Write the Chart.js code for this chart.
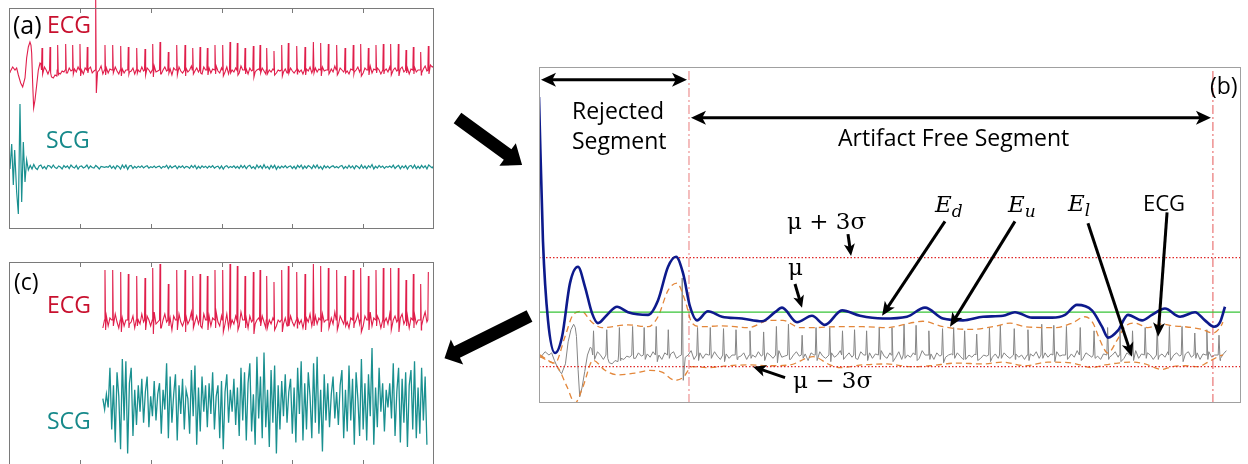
<!DOCTYPE html>
<html>
<head>
<meta charset="utf-8">
<script src="https://cdn.jsdelivr.net/npm/chart.js@4.4.0/dist/chart.umd.min.js"></script>
<style>
  html, body { margin: 0; padding: 0; background: #fff; overflow: hidden; }
  body { width: 1248px; height: 464px; position: relative; font-family: 'Open Sans', sans-serif; }
  canvas { position: absolute; }
  svg { position: absolute; left: 0; top: 0; }
  .lbl { position: absolute; white-space: nowrap; line-height: 1; }
  .ecg { color: #c8102e; font-size: 23px; }
  .scg { color: #16898a; font-size: 23px; }
  .tag, .txt { font-size: 23px; color: #000; }
  .math { font-family: 'DejaVu Serif', serif; font-size: 23px; color: #000; }
  .ev { font-family: 'DejaVu Serif', serif; font-style: italic; font-size: 23px; color: #000; }
  .ev .sb { font-size: 17px; position: relative; top: 5px; }
</style>
</head>
<body>
<canvas id="chartA" width="441" height="237" style="left:1px; top:0px"></canvas>
<canvas id="chartC" width="433" height="211" style="left:5px; top:258px"></canvas>
<canvas id="chartB" width="710" height="344" style="left:535px; top:63px"></canvas>

<svg width="1248" height="464">
  <polygon fill="#000" points="453.7,123.3 461.3,112.7 511.4,149.3 515.8,143.2 522.1,165.1 499.4,165.8 503.8,159.8"/>
  <polygon fill="#000" points="526.6,310.2 454.1,346.2 450.8,339.5 444.5,358.3 463.2,364.5 459.9,357.8 532.4,321.8"/>
</svg>

<div class="lbl tag" style="left:13px; top:12px; font-size:25px">(a)</div>
<div class="lbl ecg" style="left:47px; top:13px">ECG</div>
<div class="lbl scg" style="left:46px; top:128px">SCG</div>

<div class="lbl tag" style="left:14px; top:270px">(c)</div>
<div class="lbl ecg" style="left:47px; top:293px">ECG</div>
<div class="lbl scg" style="left:47px; top:409px">SCG</div>

<div class="lbl tag" style="left:1210px; top:74px">(b)</div>
<div class="lbl txt" style="left:572px; top:99px">Rejected</div>
<div class="lbl txt" style="left:572px; top:129px">Segment</div>
<div class="lbl txt" style="left:838px; top:126px">Artifact Free Segment</div>
<div class="lbl txt" style="left:1143px; top:191px; font-size:22px">ECG</div>
<div class="lbl math" style="left:787px; top:210px">μ + 3σ</div>
<div class="lbl math" style="left:788px; top:256px">μ</div>
<div class="lbl math" style="left:793px; top:369px">μ − 3σ</div>
<div class="lbl ev" style="left:935px; top:193px">E<span class="sb">d</span></div>
<div class="lbl ev" style="left:1008px; top:193px">E<span class="sb">u</span></div>
<div class="lbl ev" style="left:1068px; top:192px">E<span class="sb">l</span></div>

<script>
// Time axis (s) shared by all panels
const tickSeconds = [10, 20, 30, 40, 50];

// ECG: motion artifact at the start, then baseline noise + beats
const ecgArtT = [0, 0.14, 0.52, 0.85, 1.08, 1.32, 1.65, 1.93, 2.26, 2.49, 2.73, 2.96, 3.1, 3.2, 3.34, 3.48, 3.67, 3.91, 4.14, 4.38];
const ecgArtV = [-1, -2, 3, 0, 2, -5, -13, -17, -8, 12, 23, 28, 25, 17, -13, -38, -30, -15, 0, 7];

const ecgNoiseStart = 4.5;
const ecgNoiseStep = 0.25;
const ecgNoise = [
  6, 5, 3, 0, -4, -8, -7, -8, -5, -6, -3, -4, -1, -2, 1, -3, 2, -1, -3, 1,
  -2, 3, -1, 0, -4, 2, -2, 1, 3, -3, -1, 2, -2, 0, 4, -4, -1, 2, -3, 1,
  0, -2, 3, -1, -4, 2, 1, -3, 0, 3, -2, -1, 2, -4, 1, 0, -2, 3, -1, -3,
  2, 0, -3, 1, 4, -2, -1, 2, -4, 0, 3, -1, -2, 1, -5, 2, 0, -2, 3, -1,
  -3, 1, 2, -2, 0, 4, -3, -1, 2, -2, 1, -4, 3, 0, -1, 2, -3, 1, -2, 4,
  -1, -3, 2, 0, -2, 3, -4, 1, 0, -2, 2, -1, -3, 4, 0, -2, 1, -4, 2, -1,
  3, -2, 0, 1, -3, 2, -1, -4, 3, 0, -2, 1, 2, -3, 0, -1, 4, -2, 1, -3,
  0, 2, -1, -3, 3, 1, -2, 0, -4, 2, 1, -1, 3, -3, 0, 2, -2, 1, -5, 3,
  -1, 0, 2, -3, 1, -2, 4, -1, -3, 2, 0, -2, 3, -1, -4, 1, 2, -2, 0, 3,
  -2, 1, -3, 2, 0, -1, 4, -3, 1, -2, 2, 0, -4, 3, -1, 1, -2, 3, -3, 0,
  2, -1, -3, 1, 3, -2, 0, 2, -4, 1, -1, 3, -2, 0, 2, -3, 1, 4, -1, 2,
  5, 3, 4
];

const beatT = [
  4.66, 5.79, 6.87, 8.0, 8.99, 10.02, 11.05, 12.24, 13.55, 14.64,
  15.77, 16.84, 18.03, 19.2, 20.29, 21.32, 22.49, 23.68, 24.85, 25.94,
  26.97, 28.0, 29.08, 30.17, 31.2, 32.23, 33.32, 34.49, 35.44, 36.38,
  37.41, 38.5, 39.43, 40.62, 41.79, 42.97, 44.0, 45.08, 46.26, 47.44,
  48.6, 49.65, 50.73, 51.81, 52.84, 53.88, 54.96, 56.05, 57.08, 58.12,
  59.2
];
const beatR = [
  22, 23, 25, 26, 25, 26, 23, 70, 25, 25,
  24, 23, 22, 21, 26, 28, 18, 25, 25, 22,
  23, 22, 25, 25, 28, 27, 22, 24, 25, 22,
  19, 25, 27, 24, 23, 28, 27, 26, 25, 22,
  25, 26, 22, 25, 26, 26, 26, 20, 23, 18,
  24
];
const beatS = [
  -4, -3, -5, -3, -4, -6, -3, -23, -5, -3,
  -6, -4, -3, -5, -7, -4, -3, -5, -6, -4,
  -3, -5, -4, -6, -3, -5, -4, -7, -3, -4,
  -5, -6, -3, -4, -5, -3, -6, -4, -5, -3,
  -4, -6, -5, -3, -4, -5, -6, -3, -4, -5,
  -4
];

// SCG: artifact burst, then vibration
const scgArtT = [0.14, 0.38, 0.61, 0.8, 1.08, 1.32, 1.55, 1.79, 2.02, 2.26, 2.49, 2.73];
const scgArtV = [-2, 23, -18, 17, -25, -47, 63, -35, 25, -15, 7, -3];

const scgNoiseStart = 3.0;
const scgNoiseStep = 0.25;
const scgNoise = [
  1.5, -2, 2.5, -1, -2.5, 1, 2, -1.5, 0.5, -2, 1.5, 1, -1, 2, -0.5, -1.5, 1, 0, -2, 1.5,
  -0.5, 1, -1.5, 2, 0, -1, 1.5, -2, 0.5, 1, -1, 0, 2, -1.5, 1, -0.5, -1, 1.5, 0, -2,
  0.5, 0.2, -0.3, 0.4, -0.2, 1.6, -1.2, 0.8, -1.8, 1.4, 0.3, -2.1, 2, -0.8, 1.9, -2.3, 0.9, 1.6, -1.5, 0.6,
  -1, 0.8, -0.4, 1.1, -0.9, 0.5, 1.2, -1.1, 0.3, -0.6, 1, -0.8, 0.4, 0.9, -1.4, 0.6, -0.3, 1.8, -1.6, 1.2,
  -0.9, 0.4, 1.3, -1.7, 0.8, -0.5, 1.1, -1.2, 0.6, 0.2, -1.4, 1.5, -0.6, 1.7, -1.9, 0.7, -1.3, 1.2, -0.4, 0.8,
  -1.1, 0.9, -0.5, 1.4, -1.2, 0.3, 0.8, -1.6, 1, -2.1, 0.5, 1.3, -0.9, 0.6, -0.4, 1.1, -1, 0.7, -1.5, 1.6,
  -0.8, 1.4, -1.7, 0.9, 1.8, -1.3, 0.4, -1.9, 2.1, -0.7, 1.2, -1.6, 2.3, -1.1, 0.6, -2, 1.5, -0.9, 1.7, -2.3,
  0.8, -1.2, 1, -0.6, 1.3, -0.9, 0.5, 1.1, -1.4, 0.7, -1.8, 1.6, -0.5, 1.9, -1.7, 0.9, -1.2, 1.4, 0.3, -1.6,
  1.8, -0.9, 2.1, -1.4, 0.6, -2.2, 1.3, -0.8, 0.9, -1.1, 0.4, 1.2, -0.7, 0.5, -1, 0.8, 1.5, -1.6, 0.6, -1.3,
  1.7, -0.8, 1.1, -1.9, 1.4, 0.2, -1.5, 2, -1.2, 0.9, -1.7, 1.3, -0.6, 2.5, -1.9, 0.7, -1.1, 1.6, -0.4, 0.9,
  -1.3, 0.6, -0.2, 0.9, -0.7, 1.8, -1.5, 0.5, 1.6, -1.8, 1.1, -0.9, 1.4, -2, 0.8, 1.5, -1.2, 1.9, -1.6, 0.7,
  -1.4, 1.6, -0.8, 1.2, -1.9, 2.1, 0.5, -0.9, 1.7
];

// Energy envelopes used for artifact detection (panel b)
const edT = [0, 0.34, 0.77, 1.37, 1.97, 2.65, 3.33, 3.93, 4.53, 5.04, 5.81, 6.67, 7.61, 9.32, 10.17, 11.03, 11.71, 12.31, 12.91, 13.5,
  14.44, 15.64, 17.35, 19.06, 20.17, 20.77, 22.05, 23.33, 24.44, 25.9, 27.44, 29.4, 31.45, 32.99, 34.53, 36.24, 37.95, 39.66, 40.68, 42.14,
  43.85, 44.96, 45.98, 47.26, 48.12, 48.63, 49.49, 50.34, 51.54, 52.39, 53.5, 54.79, 56.07, 56.92, 57.69, 58.21, 58.63];
const edV = [3.37, 1.78, 0.91, 0.55, 0.73, 1.32, 1.5, 1.28, 0.99, 0.88, 0.97, 1.06, 1.0, 0.97, 1.13, 1.5, 1.61, 1.43, 1.06, 0.91,
  1.01, 0.95, 0.93, 0.9, 1.0, 1.05, 0.89, 0.96, 0.86, 1.02, 0.96, 0.93, 0.95, 1.05, 0.93, 0.91, 0.95, 0.96, 1.0, 0.94,
  0.94, 0.97, 1.08, 1.02, 0.84, 0.72, 0.8, 0.97, 0.91, 0.97, 1.04, 0.95, 1.0, 0.91, 0.84, 0.89, 1.06];

const euT = [0.09, 1.37, 2.22, 2.91, 3.68, 4.36, 5.38, 7.61, 9.32, 10.17, 11.03, 11.79, 12.48, 13.08, 13.93, 15.64, 17.86, 19.74, 20.85, 22.31,
  23.42, 25.47, 27.69, 29.74, 31.71, 32.82, 34.53, 36.84, 39.15, 40.26, 41.54, 44.1, 45.56, 46.67, 47.35, 47.95, 48.63, 49.4, 50.09, 50.94,
  52.05, 53.25, 54.1, 55.21, 56.67, 57.61, 58.21, 58.46];
const euV = [0.51, 0.44, 0.73, 0.97, 1.01, 0.91, 0.83, 0.86, 0.84, 0.95, 1.24, 1.32, 1.13, 0.88, 0.84, 0.85, 0.83, 0.91, 0.91, 0.83,
  0.83, 0.84, 0.84, 0.83, 0.88, 0.9, 0.84, 0.81, 0.85, 0.88, 0.84, 0.83, 0.88, 0.95, 0.88, 0.69, 0.55, 0.69, 0.84, 0.88,
  0.83, 0.87, 0.85, 0.84, 0.81, 0.77, 0.83, 0.89];

const elT = [0.09, 0.77, 1.62, 2.39, 3.08, 3.76, 4.62, 5.64, 6.75, 8.21, 9.49, 10.51, 11.62, 12.31, 13.08, 14.44, 16.15, 17.86, 19.74, 21.45,
  23.42, 24.87, 25.73, 27.69, 29.74, 31.71, 33.42, 35.73, 37.95, 39.66, 41.54, 43.5, 45.56, 47.26, 48.38, 49.49, 50.68, 51.79, 53.25, 54.1,
  55.21, 56.32, 57.18, 58.03, 58.46];
const elV = [0.53, 0.47, 0.39, 0.18, 0.0, 0.18, 0.47, 0.36, 0.31, 0.33, 0.36, 0.34, 0.25, 0.28, 0.4, 0.39, 0.41, 0.42, 0.41, 0.42,
  0.51, 0.42, 0.39, 0.42, 0.43, 0.4, 0.41, 0.44, 0.43, 0.45, 0.41, 0.45, 0.44, 0.39, 0.42, 0.44, 0.45, 0.43, 0.37, 0.4,
  0.41, 0.4, 0.45, 0.51, 0.53];

// Detection statistics and segment limits
const edMean = 1.0;
const edStd = 0.2;
const segmentBounds = [12.82, 57.6];

function zip(ts, vs) {
  return ts.map((t, i) => ({ x: t, y: vs[i] }));
}

function buildEcg(tMin, tMax) {
  const pts = zip(ecgArtT, ecgArtV);
  ecgNoise.forEach((v, i) => {
    const t = ecgNoiseStart + i * ecgNoiseStep;
    if (!beatT.some(b => Math.abs(b - t) < 0.12)) pts.push({ x: t, y: v });
  });
  beatT.forEach((t, i) => {
    pts.push({ x: t - 0.07, y: 0 }, { x: t, y: beatR[i] }, { x: t + 0.09, y: beatS[i] });
  });
  pts.sort((a, b) => a.x - b.x);
  return pts.filter(p => p.x >= tMin && p.x <= tMax);
}

function buildScg(tMin, tMax) {
  const pts = zip(scgArtT, scgArtV);
  scgNoise.forEach((v, i) => pts.push({ x: scgNoiseStart + i * scgNoiseStep, y: v }));
  return pts.filter(p => p.x >= tMin && p.x <= tMax);
}

// Box frame + inward ticks
const framePlugin = {
  id: 'frame',
  afterDraw(chart, args, opts) {
    const { ctx, chartArea: a, scales: { x } } = chart;
    ctx.save();
    ctx.strokeStyle = opts.color;
    ctx.lineWidth = 1;
    ctx.strokeRect(a.left + 0.5, a.top + 0.5, a.width - 1, a.height - 1);
    (opts.ticks || []).forEach(v => {
      const px = Math.round(x.getPixelForValue(v)) + 0.5;
      ctx.beginPath();
      ctx.moveTo(px, a.top); ctx.lineTo(px, a.top + 5);
      ctx.moveTo(px, a.bottom); ctx.lineTo(px, a.bottom - 5);
      ctx.stroke();
    });
    ctx.restore();
  }
};

// Black annotation arrows, given in data units
const arrowPlugin = {
  id: 'arrows',
  afterDatasetsDraw(chart, args, opts) {
    const { ctx, scales: { x, y } } = chart;
    ctx.save();
    ctx.strokeStyle = '#000';
    ctx.fillStyle = '#000';
    ctx.lineWidth = 3;
    opts.items.forEach(it => {
      const x1 = x.getPixelForValue(it.from[0]), y1 = y.getPixelForValue(it.from[1]);
      const x2 = x.getPixelForValue(it.to[0]), y2 = y.getPixelForValue(it.to[1]);
      const head = it.head || 14, half = it.half || 6.5;
      const ang = Math.atan2(y2 - y1, x2 - x1);
      const c = Math.cos(ang), s = Math.sin(ang);
      const sx = it.both ? x1 + c * head * 0.7 : x1, sy = it.both ? y1 + s * head * 0.7 : y1;
      ctx.beginPath();
      ctx.moveTo(sx, sy);
      ctx.lineTo(x2 - c * head * 0.7, y2 - s * head * 0.7);
      ctx.stroke();
      const drawHead = (tx, ty, dc, ds) => {
        ctx.beginPath();
        ctx.moveTo(tx, ty);
        ctx.lineTo(tx - dc * head - ds * half, ty - ds * head + dc * half);
        ctx.lineTo(tx - dc * head * 0.75, ty - ds * head * 0.75);
        ctx.lineTo(tx - dc * head + ds * half, ty - ds * head - dc * half);
        ctx.closePath();
        ctx.fill();
      };
      drawHead(x2, y2, c, s);
      if (it.both) drawHead(x1, y1, -c, -s);
    });
    ctx.restore();
  }
};

const baseOptions = (padding) => ({
  responsive: false,
  animation: false,
  devicePixelRatio: 1,
  layout: { padding },
  elements: { point: { radius: 0 } },
  plugins: { legend: { display: false }, tooltip: { enabled: false } }
});

// Panel (a): raw recording
new Chart(document.getElementById('chartA'), {
  type: 'line',
  data: {
    datasets: [
      { data: buildEcg(0, 60), yAxisID: 'yE', borderColor: '#e01e4b', borderWidth: 1.1, clip: { left: 0, right: 0, top: 10, bottom: 0 } },
      { data: buildScg(0, 60), yAxisID: 'yS', borderColor: '#1a9090', borderWidth: 1.2 }
    ]
  },
  options: {
    ...baseOptions(8),
    scales: {
      x: { type: 'linear', min: 0, max: 60, display: false },
      yE: { min: -159, max: 62, display: false },
      yS: { min: -62, max: 159, display: false }
    },
    plugins: { legend: { display: false }, tooltip: { enabled: false }, frame: { color: '#7a7a7a', ticks: tickSeconds } }
  },
  plugins: [framePlugin]
});

// Panel (c): artifact-free segment
new Chart(document.getElementById('chartC'), {
  type: 'line',
  data: {
    datasets: [
      { data: buildEcg(13.25, 59.2), yAxisID: 'yE', borderColor: '#e01e4b', borderWidth: 1.1 },
      { data: buildScg(13.25, 59.2), yAxisID: 'yS', borderColor: '#1a9090', borderWidth: 1.3 }
    ]
  },
  options: {
    ...baseOptions(4),
    scales: {
      x: { type: 'linear', min: 0, max: 60, display: false },
      yE: { min: -72.5, max: 29, display: false },
      yS: { min: -2.82, max: 6.41, display: false }
    },
    plugins: { legend: { display: false }, tooltip: { enabled: false }, frame: { color: '#7a7a7a', ticks: tickSeconds } }
  },
  plugins: [framePlugin]
});

// Panel (b): detection
const hLine = (v) => [{ x: 0, y: v }, { x: 60, y: v }];
const vLine = (t) => [{ x: t, y: 0 }, { x: t, y: 3.7 }];

new Chart(document.getElementById('chartB'), {
  type: 'line',
  data: {
    datasets: [
      { label: 'Ed', data: zip(edT, edV), borderColor: '#0d1a8c', borderWidth: 2.6, cubicInterpolationMode: 'monotone' },
      { label: 'mu', data: hLine(edMean), borderColor: '#37c437', borderWidth: 1.2 },
      { label: 'mu+3s', data: hLine(edMean + 3 * edStd), borderColor: '#e02828', borderWidth: 1.3, borderDash: [1.5, 2] },
      { label: 'mu-3s', data: hLine(edMean - 3 * edStd), borderColor: '#e02828', borderWidth: 1.3, borderDash: [1.5, 2] },
      { label: 'start', data: vLine(segmentBounds[0]), borderColor: 'rgba(225,80,80,0.75)', borderWidth: 1, borderDash: [9, 3, 2, 3] },
      { label: 'end', data: vLine(segmentBounds[1]), borderColor: 'rgba(225,60,60,0.85)', borderWidth: 1, borderDash: [9, 3, 2, 3] },
      { label: 'Eu', data: zip(euT, euV), borderColor: '#e3873b', borderWidth: 1.3, borderDash: [6, 4], cubicInterpolationMode: 'monotone' },
      { label: 'El', data: zip(elT, elV), borderColor: '#e3873b', borderWidth: 1.3, borderDash: [6, 4], cubicInterpolationMode: 'monotone' },
      { label: 'ECG', data: buildEcg(0, 58.8), yAxisID: 'yE', borderColor: '#858585', borderWidth: 1 }
    ]
  },
  options: {
    ...baseOptions(4),
    scales: {
      x: { type: 'linear', min: 0, max: 60, display: false },
      y: { min: 0, max: 3.7, display: false },
      yE: { min: -43.6, max: 261.8, display: false }
    },
    plugins: {
      legend: { display: false },
      tooltip: { enabled: false },
      frame: { color: '#a0a0a0', ticks: [] },
      arrows: {
        items: [
          { from: [0.17, 3.56], to: [segmentBounds[0] - 0.17, 3.56], both: true, head: 15, half: 7 },
          { from: [segmentBounds[0] + 0.17, 3.14], to: [segmentBounds[1] - 0.17, 3.14], both: true, head: 15, half: 7 },
          { from: [26.41, 1.86], to: [26.67, 1.62], head: 12, half: 5.5 },
          { from: [21.88, 1.31], to: [22.48, 1.05], head: 12, half: 5.5 },
          { from: [21.03, 0.28], to: [18.29, 0.4], head: 13, half: 6 },
          { from: [34.7, 2.0], to: [29.32, 0.96], head: 14, half: 6 },
          { from: [40.68, 2.0], to: [35.13, 0.84], head: 14, half: 6 },
          { from: [46.92, 1.98], to: [50.68, 0.51], head: 14, half: 6 },
          { from: [53.68, 2.1], to: [52.91, 0.73], head: 14, half: 6 }
        ]
      }
    }
  },
  plugins: [framePlugin, arrowPlugin]
});
</script>
</body>
</html>
